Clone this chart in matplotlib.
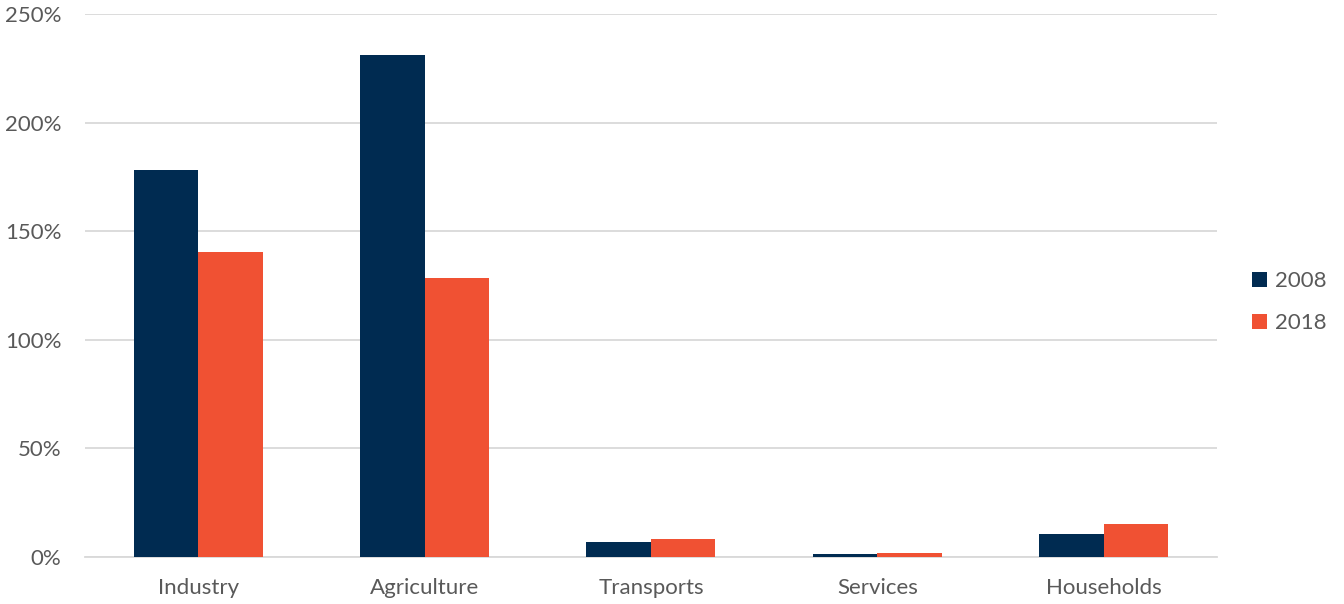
import numpy as np
import matplotlib.pyplot as plt
from matplotlib.ticker import FuncFormatter

plt.rcParams['font.family'] = ['Lato', 'DejaVu Sans']

categories = ['Industry', 'Agriculture', 'Transports', 'Services', 'Households']
years = ['2008', '2018']
v2008 = [178, 231, 6.9, 1.2, 10.6]
v2018 = [140.5, 128.5, 8.1, 1.7, 15.2]
colors = ['#002B51', '#F05133']
text_col = '#595959'

fig = plt.figure(figsize=(13.44, 6.04), dpi=100)
ax = fig.add_axes([0.0632, 0.0778, 0.8423, 0.899])

x = np.arange(len(categories))
w = 0.285
b1 = ax.bar(x - w/2, v2008, width=w, color=colors[0], label=years[0], zorder=3)
b2 = ax.bar(x + w/2, v2018, width=w, color=colors[1], label=years[1], zorder=3)

ax.set_xlim(-0.5, len(categories) - 0.5)
ax.set_ylim(0, 250)
ax.set_yticks(np.arange(0, 251, 50))
ax.yaxis.set_major_formatter(FuncFormatter(lambda v, p: '%d%%' % v))
ax.set_xticks(x)
ax.set_xticklabels(categories)
ax.grid(axis='y', color='#D9D9D9', linewidth=1.3, zorder=0)
for s in ['top', 'right', 'left']:
    ax.spines[s].set_visible(False)
ax.spines['bottom'].set_color('#D9D9D9')
ax.spines['bottom'].set_linewidth(1.3)
ax.tick_params(length=0, labelsize=16, colors=text_col)
ax.tick_params(axis='y', pad=17)
ax.tick_params(axis='x', pad=15)

leg = fig.legend(handles=[b1, b2], loc='center left', bbox_to_anchor=(0.917, 0.5),
                 frameon=False, fontsize=16, handlelength=0.65, handleheight=0.65,
                 handletextpad=0.35, labelspacing=1.0)
for t in leg.get_texts():
    t.set_color(text_col)

plt.savefig('out.png', dpi=100)
